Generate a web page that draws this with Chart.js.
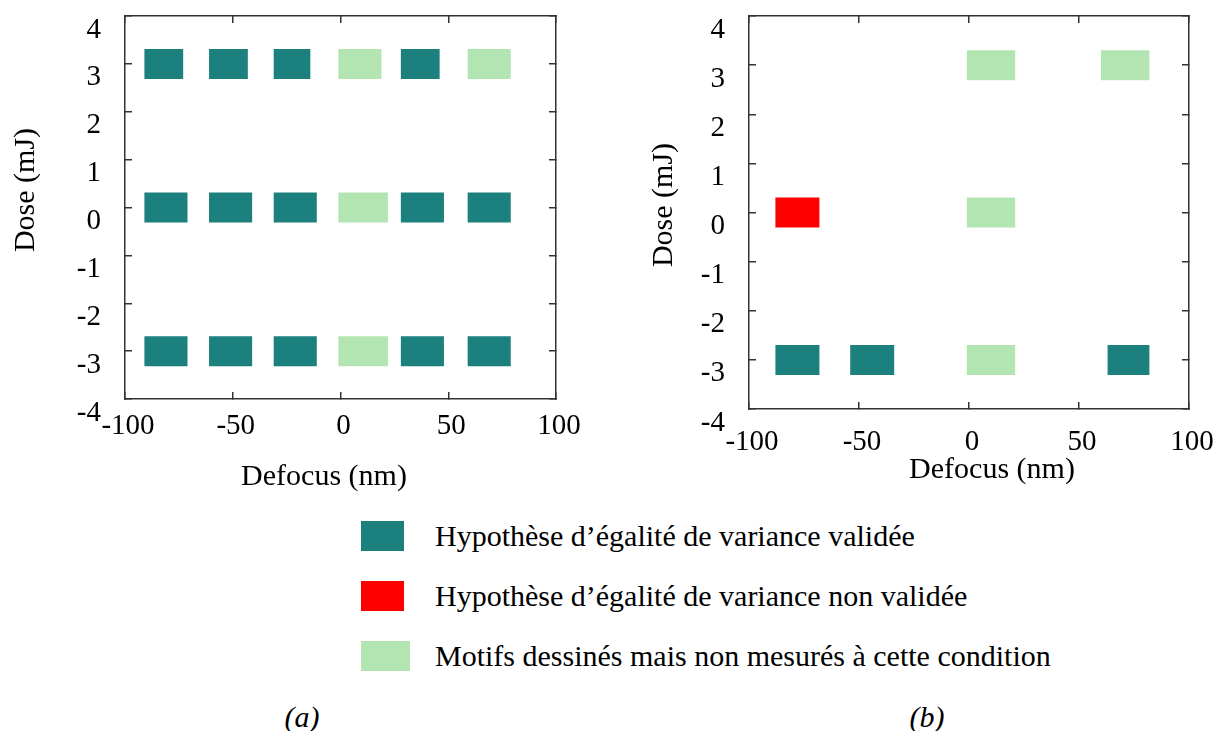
<!DOCTYPE html>
<html>
<head>
<meta charset="utf-8">
<script src="https://cdn.jsdelivr.net/npm/chart.js@4"></script>
<style>
  body { margin: 0; background: #fff; width: 1231px; height: 731px; overflow: hidden; position: relative; font-family: "Liberation Serif", "Times New Roman", serif; }
  .panel { position: absolute; top: 0; }
  #legend { position: absolute; left: 361px; top: 521px; }
  .row { position: absolute; left: 0; height: 30px; white-space: nowrap; }
  .swatch { position: absolute; left: 0; top: 0; width: 43px; height: 30px; }
  .label { position: absolute; left: 74px; top: 0; line-height: 30px; font-size: 30px; color: #000; }
  .caption { position: absolute; top: 700px; width: 80px; text-align: center; font-style: italic; font-size: 30px; line-height: 34px; }
</style>
</head>
<body>
<div class="panel" style="left:0px"><canvas id="chartA" width="610" height="500"></canvas></div>
<div class="panel" style="left:620px"><canvas id="chartB" width="611" height="500"></canvas></div>
<div id="legend"></div>
<div class="caption" style="left:262px">(a)</div>
<div class="caption" style="left:887px">(b)</div>
<script>
// categories shared by both panels (legend order)
const statusLabels = [
    "Hypothèse d’égalité de variance validée",
    "Hypothèse d’égalité de variance non validée",
    "Motifs dessinés mais non mesurés à cette condition"
];
const statusColors = ["#1b807e", "#ff0000", "#b3e5b2"];

// axis ticks
const xTicks = [-100, -50, 0, 50, 100];
const yTicks = [-4, -3, -2, -1, 0, 1, 2, 3, 4];

// panel (a): one box per test condition, defocus from start to end (nm), dose (mJ)
const aDose   = [3, 3, 3, 3, 3, 3, 0, 0, 0, 0, 0, 0, -3, -3, -3, -3, -3, -3];
const aStart  = [-91, -61, -31, -1, 28, 59, -91, -61, -31, -1, 28, 59, -91, -61, -31, -1, 28, 59];
const aEnd    = [-73, -43, -14, 19, 46, 79, -71, -41, -11, 22, 48, 79, -71, -41, -11, 22, 48, 79];
const aStatus = [0, 0, 0, 2, 0, 2, 0, 0, 0, 2, 0, 0, 0, 0, 0, 2, 0, 0];

// panel (b)
const bDose   = [3, 3, 0, 0, -3, -3, -3, -3];
const bStart  = [-1, 60, -88, -1, -88, -54, -1, 63];
const bEnd    = [21, 82, -68, 21, -68, -34, 21, 82];
const bStatus = [2, 2, 1, 2, 0, 0, 2, 0];

function makeDatasets(dose, start, end, status) {
    return statusLabels.map((label, s) => ({
        label: label,
        data: dose.map((d, i) => ({x: [start[i], end[i]], y: d, s: status[i]}))
                  .filter(p => p.s === s),
        backgroundColor: statusColors[s],
        borderWidth: 0,
        grouped: false,
        maxBarThickness: 30
    }));
}

const tickFont = {family: "Liberation Serif", size: 29};

function makeScales(yWidth, xHeight, xPad) {
    const grid = {drawOnChartArea: false, drawTicks: true, tickLength: -7, color: "#333", lineWidth: 1.5, offset: false};
    const border = {display: true, color: "#333", width: 1.5};
    const setX = s => { s.ticks = xTicks.map(v => ({value: v})); };
    const setY = s => { s.ticks = yTicks.map(v => ({value: v})); };
    return {
        x: {
            type: "linear", position: "bottom", min: -100, max: 100, offset: false,
            afterBuildTicks: setX,
            afterFit: s => { s.height = xHeight; s.paddingLeft = 0; s.paddingRight = 0; },
            ticks: {font: tickFont, color: "#000", padding: xPad, labelOffset: 3, maxRotation: 0, autoSkip: false, callback: v => String(v)},
            grid: grid, border: border
        },
        x2: {
            type: "linear", position: "top", min: -100, max: 100, offset: false,
            afterBuildTicks: setX,
            afterFit: s => { s.height = 0; s.paddingLeft = 0; s.paddingRight = 0; },
            ticks: {display: false},
            grid: grid, border: border
        },
        y: {
            type: "linear", position: "left", min: -4, max: 4, offset: false,
            afterBuildTicks: setY,
            afterFit: s => { s.width = yWidth; s.paddingTop = 0; s.paddingBottom = 0; },
            ticks: {font: tickFont, color: "#000", padding: 31, labelOffset: 14, autoSkip: false, callback: v => String(v)},
            grid: grid, border: border
        },
        y2: {
            type: "linear", position: "right", min: -4, max: 4, offset: false,
            afterBuildTicks: setY,
            afterFit: s => { s.width = 0; s.paddingTop = 0; s.paddingBottom = 0; },
            ticks: {display: false},
            grid: grid, border: border
        }
    };
}

// axis titles are placed where the original figure has them
const axisTitles = {
    id: "axisTitles",
    afterDraw(chart, args, opts) {
        const ctx = chart.ctx;
        ctx.save();
        ctx.font = "30px 'Liberation Serif'";
        ctx.fillStyle = "#000";
        ctx.textAlign = "center";
        ctx.textBaseline = "middle";
        ctx.fillText(opts.xText, opts.xPos[0], opts.xPos[1]);
        ctx.translate(opts.yPos[0], opts.yPos[1]);
        ctx.rotate(-Math.PI / 2);
        ctx.fillText(opts.yText, 0, 0);
        ctx.restore();
    }
};

function createChart(id, datasets, pad, yWidth, xHeight, xPad, titles) {
    const ctx = document.getElementById(id).getContext("2d");
    return new Chart(ctx, {
        type: "bar",
        data: {datasets: datasets},
        options: {
            indexAxis: "y",
            responsive: false,
            animation: false,
            layout: {padding: pad, autoPadding: false},
            scales: makeScales(yWidth, xHeight, xPad),
            plugins: {
                legend: {display: false},
                tooltip: {enabled: false},
                axisTitles: titles
            }
        },
        plugins: [axisTitles]
    });
}

createChart("chartA", makeDatasets(aDose, aStart, aEnd, aStatus),
    {top: 16, right: 54, bottom: 41, left: 0}, 125, 60, 17,
    {xText: "Defocus (nm)", xPos: [324, 477], yText: "Dose (mJ)", yPos: [26, 190]});

createChart("chartB", makeDatasets(bDose, bStart, bEnd, bStatus),
    {top: 16, right: 42, bottom: 31, left: 0}, 129, 60, 23,
    {xText: "Defocus (nm)", xPos: [372, 470], yText: "Dose (mJ)", yPos: [44, 205]});

// shared legend
const legend = document.getElementById("legend");
statusLabels.forEach((label, i) => {
    const row = document.createElement("div");
    row.className = "row";
    row.style.top = (i * 60) + "px";
    const sw = document.createElement("div");
    sw.className = "swatch";
    sw.style.background = statusColors[i];
    if (i === 2) sw.style.width = "49px";
    const tx = document.createElement("div");
    tx.className = "label";
    tx.textContent = label;
    row.appendChild(sw);
    row.appendChild(tx);
    legend.appendChild(row);
});
</script>
</body>
</html>
